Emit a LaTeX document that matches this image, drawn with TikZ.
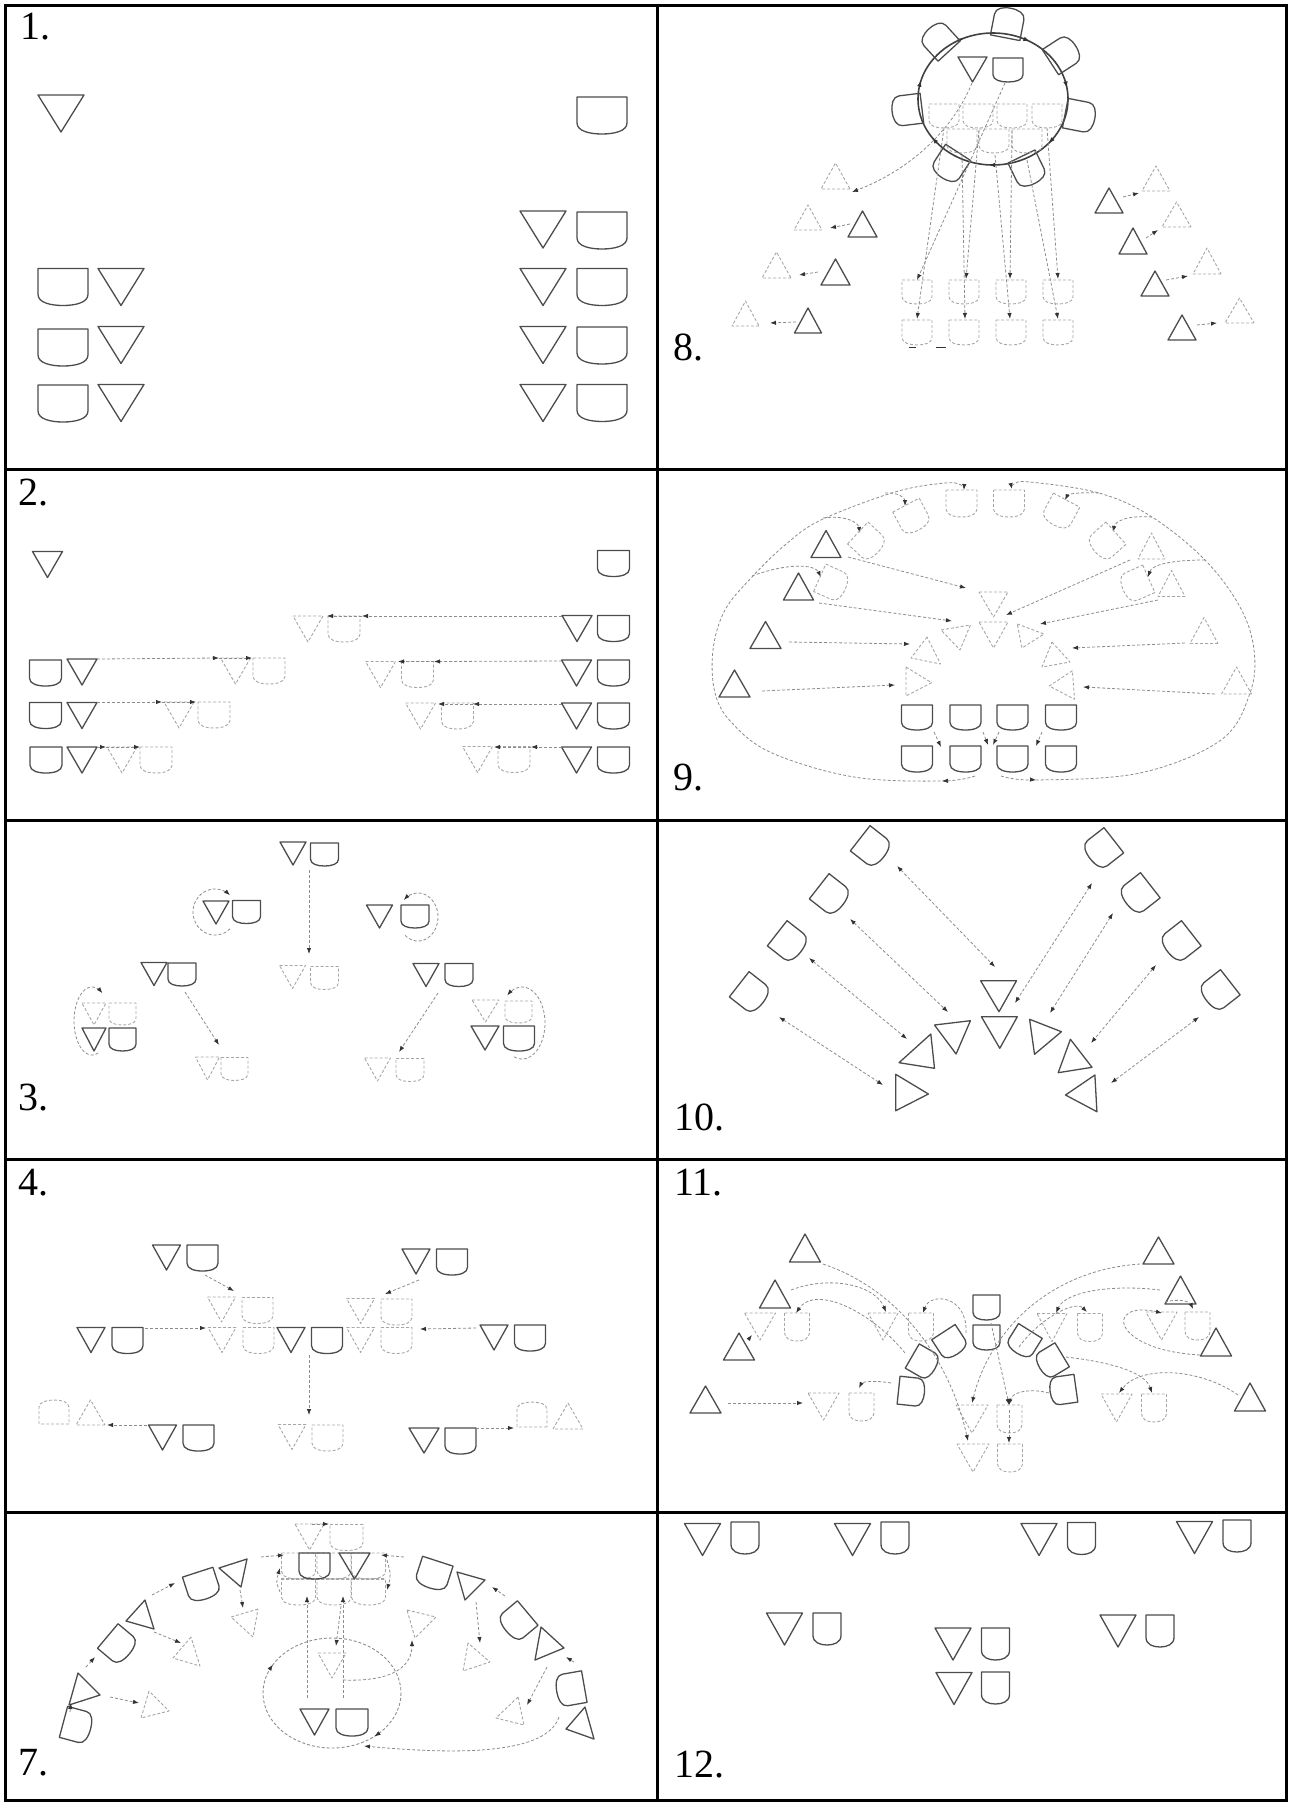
\documentclass[tikz,border=0pt]{standalone}
\usepackage{fontspec}
\setmainfont{Liberation Serif}
\usetikzlibrary{arrows.meta}
\tikzset{
  sol/.style={draw=black!70, line width=0.65pt, line join=round},
  dsh/.style={draw=black!35, line width=0.45pt, dash pattern=on 1.5pt off 1pt, line join=round},
  arr/.style={draw=black!45, line width=0.4pt, dash pattern=on 1.5pt off 1pt, -{Latex[length=3pt,width=2.2pt,color=black!80]}},
  dar/.style={draw=black!45, line width=0.4pt, dash pattern=on 1.5pt off 1pt, {Latex[length=3pt,width=2.2pt,color=black!80]}-{Latex[length=3pt,width=2.2pt,color=black!80]}},
  tipo/.style={draw=black!80, line width=0.3pt, -{Latex[length=3pt,width=2.2pt,color=black!80]}},
  lbl/.style={anchor=base west, inner sep=0pt, font=\fontsize{20}{22}\selectfont},
  frm/.style={line width=1.5pt, draw=black},
}
% down triangle centred at (#2,#3), width #4, height #5, rotation #6
\newcommand\ShT[6][sol]{\draw[#1,shift={(#2,#3)},rotate=#6] (-0.5*#4,-0.5*#5) -- (0.5*#4,-0.5*#5) -- (0,0.5*#5) -- cycle;}
% cup centred at (#2,#3)
\newcommand\ShC[6][sol]{\draw[#1,shift={(#2,#3)},rotate=#6] (-0.5*#4,-0.5*#5) -- (0.5*#4,-0.5*#5) -- (0.5*#4,0.2*#5) .. controls (0.5*#4,0.42*#5) and (0.25*#4,0.5*#5) .. (0,0.5*#5) .. controls (-0.25*#4,0.5*#5) and (-0.5*#4,0.42*#5) .. (-0.5*#4,0.2*#5) -- cycle;}
% triangle by vertices
\newcommand\ShP[4][sol]{\draw[#1] #2 -- #3 -- #4 -- cycle;}
% arrow tip on an ellipse: centre (#1,#2), radii #3 #4, angle #5 (clockwise on screen)
\newcommand\ETip[5]{\draw[tipo] ({#1+#3*cos(#5-4)},{#2+#4*sin(#5-4)}) -- ({#1+#3*cos(#5)},{#2+#4*sin(#5)});}
\begin{document}
\begin{tikzpicture}[x=0.5pt,y=-0.5pt]
\useasboundingbox (0,0) rectangle (1290,1803);
% ---------------- frame
\draw[frm] (5,6) rectangle (1286,1800);
\draw[frm] (657,6) -- (657,1800);
\foreach \yy in {469,820,1159,1512} \draw[frm] (5,\yy) -- (1286,\yy);
% ---------------- labels
\node[lbl] (l1) at (20,40) {1.};
\node[lbl] (l2) at (18,505) {2.};
\node[lbl] (l3) at (18,1110) {3.};
\node[lbl] (l4) at (18,1195) {4.};
\node[lbl] (l7) at (18,1775) {7.};
\node[lbl] (l8) at (673,360) {8.};
\node[lbl] (l9) at (673,790) {9.};
\node[lbl] (l10) at (674,1130) {10.};
\node[lbl] (l11) at (674,1195) {11.};
\node[lbl] (l12) at (674,1777) {12.};
% ================= PANEL 1
\ShT{61}{113.5}{46}{37}{0}
\ShC{602}{115.5}{50}{37}{0}
\ShT{543}{229.5}{46}{37}{0} \ShC{602}{230.5}{50}{37}{0}
\ShC{63}{287}{50}{37}{0} \ShT{121}{287}{46}{37}{0} \ShT{543}{287}{46}{37}{0} \ShC{602}{287}{50}{37}{0}
\ShC{63}{347.5}{50}{37}{0} \ShT{121}{345}{46}{37}{0} \ShT{543}{345}{46}{37}{0} \ShC{602}{345.5}{50}{37}{0}
\ShC{63}{403.5}{50}{37}{0} \ShT{121}{403}{46}{37}{0} \ShT{543}{403}{46}{37}{0} \ShC{602}{403}{50}{37}{0}
% ================= PANEL 2
\ShT{47.5}{564.5}{30}{26}{0}
\ShC{613.5}{563.5}{32}{26}{0}
\ShT{577}{628.5}{30}{26}{0} \ShC{613.5}{628.5}{32}{26}{0}
\ShT[dsh]{308}{629}{30}{26}{0} \ShC[dsh]{344}{629}{32}{26}{0}
\draw[arr] (562,616) -- (362,616); \draw[arr] (362,616) -- (327,616);
\ShC{45.5}{673}{32}{26}{0} \ShT{82}{672}{30}{26}{0}
\ShT[dsh]{235.5}{671}{30}{26}{0} \ShC[dsh]{269}{671}{32}{26}{0}
\draw[arr] (97,659) -- (219,658); \draw[arr] (219,658) -- (252,658);
\ShT{576.5}{673}{30}{26}{0} \ShC{613.5}{673}{32}{26}{0}
\ShT[dsh]{380.5}{674.5}{30}{26}{0} \ShC[dsh]{417.5}{674.5}{32}{26}{0}
\draw[arr] (562,661) -- (434,661.5); \draw[arr] (434,661.5) -- (398,661.5);
\ShC{45.5}{715.5}{32}{26}{0} \ShT{82}{715.5}{30}{26}{0}
\ShT[dsh]{179}{715}{30}{26}{0} \ShC[dsh]{214}{715}{32}{26}{0}
\draw[arr] (97,702) -- (162,702); \draw[arr] (162,702) -- (196,702);
\ShT{576.5}{716}{30}{26}{0} \ShC{613.5}{716}{32}{26}{0}
\ShT[dsh]{420.5}{716}{30}{26}{0} \ShC[dsh]{457.5}{716}{32}{26}{0}
\draw[arr] (562,704) -- (473,704); \draw[arr] (473,704) -- (438,704);
\ShC{46}{760}{32}{26}{0} \ShT{82}{760}{30}{26}{0}
\ShT[dsh]{122}{760}{30}{26}{0} \ShC[dsh]{156}{760}{32}{26}{0}
\draw[arr] (97,747) -- (106,747); \draw[arr] (106,747) -- (140,747);
\ShT{576.5}{760}{30}{26}{0} \ShC{613.5}{760}{32}{26}{0}
\ShT[dsh]{477.5}{759.5}{30}{26}{0} \ShC[dsh]{514}{759.5}{32}{26}{0}
\draw[arr] (562,747) -- (531,747); \draw[arr] (531,747) -- (494,747);
% ================= PANEL 3
\ShT{293}{853.5}{26}{23}{0} \ShC{324.5}{854.5}{28}{23}{0}
\draw[arr] (309,870) -- (309,954);
\ShT{216}{912.5}{26}{23}{0} \ShC{246.5}{912}{28}{23}{0}
\draw[arr] plot[domain=47:313,samples=40,smooth] ({215+22*cos(\x)},{912+23*sin(\x)});
\ShT{379.5}{916.5}{26}{23}{0} \ShC{415}{916.5}{28}{23}{0}
\draw[arr] plot[domain=0:265,samples=40,smooth] ({418+20*cos(130-\x)},{917+24*sin(130-\x)});
\ShT[dsh]{292.5}{977}{26}{23}{0} \ShC[dsh]{324.5}{978}{28}{23}{0}
\ShT{154}{974}{26}{23}{0} \ShC{182}{974.5}{28}{23}{0}
\ShT{426}{975}{26}{23}{0} \ShC{459}{975}{28}{23}{0}
\draw[arr] (185,992) -- (219,1045);
\draw[arr] (438,993) -- (399,1052);
\ShT[dsh]{207.5}{1068.5}{24}{23}{0} \ShC[dsh]{234.5}{1069}{27}{23}{0}
\ShT[dsh]{377.5}{1069.5}{26}{23}{0} \ShC[dsh]{410}{1070}{28}{23}{0}
\ShT[dsh]{94}{1014}{24}{22}{0} \ShC[dsh]{122.5}{1014}{27}{22}{0}
\ShT{94}{1039.5}{24}{23}{0} \ShC{122.5}{1039.5}{27}{23}{0}
\draw[arr] plot[domain=70:305,samples=40,smooth] ({92+18*cos(\x)},{1021+34*sin(\x)});
\ShT[dsh]{485.5}{1011}{27}{22}{0} \ShC[dsh]{518.5}{1012}{27}{22}{0}
\ShT{485}{1038}{28}{24}{0} \ShC{519}{1038.5}{31}{25}{0}
\draw[arr] plot[domain=0:240,samples=40,smooth] ({522+23*cos(110-\x)},{1023+36*sin(110-\x)});
% ================= PANEL 4
\ShT{166.5}{1257.5}{28}{25}{0} \ShC{202.5}{1258}{31}{26}{0}
\ShT{416}{1261.5}{28}{25}{0} \ShC{452}{1262}{31}{26}{0}
\draw[arr] (205,1275) -- (234,1291);
\draw[arr] (419,1280) -- (385,1294);
\ShT[dsh]{221.5}{1309.5}{28}{25}{0} \ShC[dsh]{257.5}{1310.5}{31}{26}{0}
\ShT[dsh]{360.5}{1311}{28}{25}{0} \ShC[dsh]{396.5}{1312}{31}{26}{0}
\ShT{91}{1340}{28}{25}{0} \ShC{127.5}{1340.5}{31}{26}{0}
\ShT[dsh]{222}{1340}{28}{25}{0} \ShC[dsh]{258.5}{1340.5}{31}{26}{0}
\ShT{291}{1340}{28}{25}{0} \ShC{327}{1340.5}{31}{26}{0}
\ShT[dsh]{360.5}{1340}{28}{25}{0} \ShC[dsh]{396.5}{1340.5}{31}{26}{0}
\ShT{494}{1337.5}{28}{25}{0} \ShC{530}{1338}{31}{26}{0}
\draw[arr] (145,1328) -- (206,1328);
\draw[arr] (476,1328) -- (420,1329);
\draw[arr] (309,1355) -- (309,1415);
\ShC[dsh]{54}{1412}{30}{24}{180} \ShT[dsh]{90.5}{1412.5}{29}{25}{180}
\draw[arr] (147,1425) -- (107,1425);
\ShT{162.5}{1437.5}{28}{25}{0} \ShC{198.5}{1438}{31}{26}{0}
\ShT[dsh]{292}{1437}{28}{25}{0} \ShC[dsh]{327.5}{1438}{31}{26}{0}
\ShT{424}{1440.5}{30}{25}{0} \ShC{460.5}{1441}{31}{26}{0}
\draw[arr] (476,1428) -- (514,1428);
\ShC[dsh]{532}{1414.5}{30}{25}{180} \ShT[dsh]{568}{1416}{30}{26}{180}
% ================= PANEL 7
\ShT[dsh]{309.5}{1537}{29}{26}{0} \ShC[dsh]{346.5}{1537.5}{33}{26}{0}
\draw[arr] (312,1524) -- (329,1524);
\ShC[dsh]{298.5}{1566}{34}{26}{0} \ShC[dsh]{334}{1566}{34}{26}{0} \ShC[dsh]{368.5}{1566}{34}{26}{0}
\ShC[dsh]{298.5}{1592}{34}{26}{0} \ShC[dsh]{334}{1592}{34}{26}{0} \ShC[dsh]{368.5}{1592}{34}{26}{0}
\draw[dsh,line width=0.8pt] (281,1579) -- (385,1579);
\ShC{314.5}{1566}{31}{26}{0} \ShT{354.5}{1566}{31}{26}{0}
\draw[arr] (261,1557) -- (284,1555);
\draw[arr] (404,1557) -- (381,1555);
\draw[arr] (280,1592) .. controls (276,1582) .. (280,1568);
\draw[arr] (387,1560) .. controls (391,1575) .. (387,1590);
\draw[arr] (307,1698) -- (307,1596);
\draw[arr] (343,1698) -- (343,1596);
\draw[arr] (341,1606) -- (336,1646);
\draw[dsh,draw=black!45] (332,1693) ellipse[x radius=69,y radius=55];
\ETip{332}{1693}{69}{55}{211}
\ETip{332}{1693}{69}{55}{52}
\ShT[dsh]{332}{1665.5}{28}{25}{0}
\draw[arr] (343,1680) .. controls (395,1682) and (412,1665) .. (412,1640);
\ShP[dsh]{(407,1610)}{(436,1617)}{(415,1638)}
\draw[arr] (559,1717) .. controls (545,1760) and (430,1752) .. (364,1746);
\ShT{314.5}{1722}{29}{26}{0} \ShC{352}{1722.5}{32}{27}{0}
\ShC{77}{1725.5}{32}{28}{75}
\ShP{(78,1673)}{(69,1705)}{(100,1695)}
\ShC{118.5}{1645}{32}{28}{50}
\ShP{(145,1600)}{(126,1621)}{(154,1629)}
\ShC{202}{1585.5}{32}{28}{18}
\ShP{(219,1568)}{(247,1559)}{(241,1587)}
\draw[arr] (70,1712) -- (71,1703);
\draw[arr] (86,1667) -- (95,1657);
\draw[arr] (152,1595) -- (175,1583);
\ShP[dsh]{(149,1691)}{(141,1718)}{(169,1711)}
\ShP[dsh]{(191,1637)}{(173,1658)}{(200,1666)}
\ShP[dsh]{(258,1609)}{(231,1617)}{(253,1637)}
\draw[arr] (110,1697) -- (139,1703);
\draw[arr] (154,1632) -- (181,1643);
\draw[arr] (240,1590) -- (243,1608);
\ShC{433.5}{1574.5}{32}{28}{-18}
\ShP{(457,1572)}{(485,1580)}{(465,1600)}
\ShC{517}{1622}{32}{28}{-50}
\ShP{(541,1627)}{(535,1660)}{(564,1648)}
\ShC{570.5}{1689}{32}{28}{-80}
\ShP{(585,1707)}{(566,1729)}{(594,1739)}
\draw[arr] (505,1596) -- (492,1587);
\draw[arr] (574,1662) -- (566,1657);
\ShP[dsh]{(468,1643)}{(463,1671)}{(490,1662)}
\ShP[dsh]{(518,1697)}{(496,1718)}{(524,1725)}
\draw[arr] (476,1602) -- (480,1643);
\draw[arr] (547,1667) -- (527,1705);
% ================= PANEL 8
\draw[draw=black!75,line width=0.8pt] (993,99) ellipse[x radius=75,y radius=66];
\foreach \aa in {196,247,299,350,42,93,144} {\ETip{993}{99}{75}{66}{\aa}}
\ShC{1008}{23}{30}{30}{169}
\ShC{939}{40}{30}{30}{-137.5}
\ShC{1063}{54}{30}{30}{123}
\ShC{1080}{116}{30}{30}{79}
\ShC{1028}{170}{30}{30}{26}
\ShC{950}{165}{30}{30}{-33}
\ShC{907}{110}{30}{30}{-83}
\ShT{972.5}{69.5}{29}{25}{0} \ShC{1008}{70}{30}{24}{0}
\foreach \xx in {944,978,1012,1047} {\ShC[dsh]{\xx}{116}{30}{24}{0}}
\foreach \xx in {962,994,1027} {\ShC[dsh]{\xx}{141}{30}{24}{0}}
\foreach \xx in {917,964,1011,1058} {\ShC[dsh]{\xx}{292}{30}{24}{0} \ShC[dsh]{\xx}{332.5}{30}{25}{0}}
\draw[arr] (1005,83) -- (917,280);
\draw[arr] (972,83) .. controls (955,125) and (915,168) .. (852,192);
\draw[arr] (944,128) -- (917,319);
\draw[arr] (979,130) -- (966,279);
\draw[arr] (962,155) -- (965,319);
\draw[arr] (1012,130) -- (1010,279);
\draw[arr] (995,155) -- (1010,319);
\draw[arr] (1047,128) -- (1058,279);
\draw[arr] (1027,160) -- (1058,319);
\draw[black!80,line width=0.8pt] (909,347.5) -- (916,347.5) (936,347.5) -- (946,347.5);
\ShT[dsh]{835.5}{176}{29}{26}{180}
\ShT[dsh]{808}{217.5}{28}{25}{180} \ShT{862.5}{224}{29}{26}{180}
\ShT[dsh]{776.5}{265}{29}{26}{180} \ShT{835.5}{272}{29}{26}{180}
\ShT[dsh]{745.5}{313.5}{27}{25}{180} \ShT{808}{320.5}{27}{25}{180}
\draw[arr] (850,224) -- (830,228);
\draw[arr] (818,272) -- (799,275);
\draw[arr] (796,322) -- (770,323);
\ShT{1109}{200.5}{28}{25}{180} \ShT[dsh]{1156}{178.5}{28}{25}{180}
\ShT{1133}{241}{28}{26}{180} \ShT[dsh]{1176.5}{214.5}{29}{25}{180}
\ShT{1155}{283.5}{28}{25}{180} \ShT[dsh]{1207}{261}{28}{26}{180}
\ShT{1182}{327.5}{28}{25}{180} \ShT[dsh]{1239.5}{310.5}{29}{25}{180}
\draw[arr] (1123,197) -- (1139,193);
\draw[arr] (1146,238) -- (1158,230);
\draw[arr] (1166,280) -- (1188,276);
\draw[arr] (1197,325) -- (1217,323);
% ================= PANEL 9
\draw[arr] plot[smooth,tension=0.6] coordinates {(975,776) (942,781) (854,777) (772,753) (732,723) (715,693) (713,650) (725,610) (752,577) (785,545) (821,520) (895,492) (945,483) (961,485) (964,490)};
\draw[tipo] (948,780.8) -- (942,781);
\draw[arr] plot[smooth,tension=0.6] coordinates {(1001,776) (1036,780) (1140,773) (1221,740) (1250,693) (1254,650) (1240,607) (1205,560) (1152,517) (1099,493) (1030,482) (1014,484) (1012,489)};
\draw[tipo] (1030,779.5) -- (1036,780);
\draw[arr] (885,493) .. controls (898,492) and (905,498) .. (905,506);
\draw[arr] (823,518) .. controls (845,515) and (858,522) .. (860,533);
\draw[arr] (752,576) .. controls (790,562) and (815,565) .. (821,577);
\draw[arr] (1099,493) .. controls (1080,492) and (1068,494) .. (1065,500);
\draw[arr] (1152,517) .. controls (1125,515) and (1115,522) .. (1113,532);
\draw[arr] (1205,560) .. controls (1170,560) and (1152,565) .. (1148,577);
\ShC[dsh]{961.5}{503.5}{31}{27}{0} \ShC[dsh]{1009}{503.5}{31}{27}{0}
\ShC[dsh]{912.5}{517.5}{30}{28}{28}
\ShC[dsh]{868}{542.5}{30}{28}{47}
\ShC[dsh]{832.5}{583.5}{30}{28}{66}
\ShC[dsh]{1060}{512.5}{30}{28}{-28}
\ShC[dsh]{1105.5}{542.5}{30}{28}{-48}
\ShC[dsh]{1136}{584.5}{30}{28}{-66}
\ShT{826}{544}{30}{27}{180} \ShT{798.5}{586.5}{30}{27}{180} \ShT{765.5}{635}{31}{27}{180} \ShT{734.5}{683.5}{31}{27}{180}
\ShT[dsh]{1151.5}{546}{27}{26}{180} \ShT[dsh]{1171.5}{583.5}{27}{26}{180} \ShT[dsh]{1204}{630.5}{28}{26}{180} \ShT[dsh]{1236.5}{680.5}{30}{27}{180}
\ShP[dsh]{(979,592)}{(1008,592)}{(993.5,617)}
\ShP[dsh]{(979,622)}{(1008,622)}{(993.5,648)}
\ShP[dsh]{(941,630)}{(970.4,625)}{(960,650)}
\ShP[dsh]{(1017.3,624)}{(1044,634)}{(1022,648)}
\ShP[dsh]{(927,637)}{(911,658)}{(940.6,664)}
\ShP[dsh]{(1052,642)}{(1070,662)}{(1042,667)}
\ShP[dsh]{(906,667)}{(931.6,682.7)}{(906,696)}
\ShP[dsh]{(1072.4,670.7)}{(1049.2,686)}{(1074.5,699.3)}
\draw[arr] (848,557) -- (966,588);
\draw[arr] (819,603) -- (952,621);
\draw[arr] (789,642) -- (910,644);
\draw[arr] (762,691) -- (895,685);
\draw[arr] (1130,560) -- (1006,615);
\draw[arr] (1158,600) -- (1040,624);
\draw[arr] (1185,643) -- (1072,648);
\draw[arr] (1215,694) -- (1083,687);
\foreach \xx in {917,965.5,1012.5,1061} {\ShC{\xx}{717.5}{31}{25}{0} \ShC{\xx}{759}{31}{26}{0}}
\draw[arr] (934,732) -- (941,747);
\draw[arr] (983,732) -- (988,745);
\draw[arr] (999,732) -- (993,745);
\draw[arr] (1042,732) -- (1036,746);
% ================= PANEL 10
\ShC{872}{847.5}{32}{30}{52} \ShC{831}{895.5}{32}{30}{52} \ShC{789}{942.5}{32}{30}{52} \ShC{751}{993.5}{32}{30}{52}
\ShC{1102}{849.5}{32}{30}{-52} \ShC{1138.5}{894.5}{32}{30}{-52} \ShC{1179.5}{942.5}{32}{30}{-52} \ShC{1218.5}{991.5}{32}{30}{-52}
\ShP{(980.6,980.7)}{(1016.5,980.7)}{(999,1011.7)}
\ShP{(981.4,1016.7)}{(1017.3,1016.7)}{(999.8,1048.3)}
\ShP{(934.5,1025)}{(970.4,1020.7)}{(956.1,1054)}
\ShP{(1029.6,1019.3)}{(1061.4,1031.7)}{(1034.5,1054.3)}
\ShP{(930.8,1034)}{(899,1062.7)}{(934.5,1068.3)}
\ShP{(1070.4,1039.3)}{(1058.2,1072.7)}{(1092,1067.3)}
\ShP{(895.7,1074.3)}{(928.4,1094)}{(895.7,1110.7)}
\ShP{(1094.9,1075)}{(1065.5,1095)}{(1096.9,1111.7)}
\draw[dar] (897,866) -- (995,967);
\draw[dar] (850,919) -- (948,1012);
\draw[dar] (809,958) -- (907,1039);
\draw[dar] (779,1017) -- (883,1085);
\draw[dar] (1092,883) -- (1015,1003);
\draw[dar] (1113,913) -- (1050,1013);
\draw[dar] (1156,965) -- (1091,1043);
\draw[dar] (1199,1017) -- (1111,1083);
% ================= PANEL 11
\ShT{805}{1248}{31}{28}{180} \ShT{1158.5}{1250.5}{31}{27}{180}
\ShT{775}{1294}{31}{28}{180} \ShT{739}{1346.5}{31}{27}{180} \ShT{705.5}{1399.5}{31}{27}{180}
\ShT{1180.5}{1290}{31}{28}{180} \ShT{1216}{1342}{31}{28}{180} \ShT{1250}{1397}{31}{28}{180}
\ShT[dsh]{760}{1326.5}{31}{27}{0} \ShC[dsh]{797}{1327}{25}{28}{0}
\ShT[dsh]{883}{1326.5}{30}{27}{0} \ShC[dsh]{921}{1327}{25}{28}{0}
\ShT[dsh]{1052}{1327.5}{30}{28}{0} \ShC[dsh]{1090}{1327.5}{25}{28}{0}
\ShT[dsh]{1161.5}{1326}{31}{28}{0} \ShC[dsh]{1197.5}{1326}{25}{28}{0}
\ShT[dsh]{823.5}{1406.5}{31}{27}{0} \ShC[dsh]{861.5}{1407}{25}{28}{0}
\ShT[dsh]{972}{1419}{32}{28}{0} \ShC[dsh]{1009.5}{1419}{25}{28}{0}
\ShT[dsh]{973}{1458}{32}{28}{0} \ShC[dsh]{1010}{1458}{25}{28}{0}
\ShT[dsh]{1116.5}{1408}{31}{28}{0} \ShC[dsh]{1154}{1408}{25}{28}{0}
\ShC{986.5}{1307.5}{27}{25}{0} \ShC{986.5}{1337.5}{27}{25}{0}
\ShC{911.5}{1391.5}{28}{26}{84} \ShC{923.5}{1362.5}{28}{26}{60} \ShC{950.5}{1343}{28}{26}{33}
\ShC{1023.5}{1342}{28}{26}{-32} \ShC{1051}{1361.5}{28}{26}{-59} \ShC{1063}{1390}{28}{26}{-82}
\draw[arr] (823,1264) .. controls (900,1290) and (950,1360) .. (968,1441);
\draw[arr] (1140,1264) .. controls (1050,1270) and (990,1330) .. (972,1403);
\draw[arr] (791,1290) .. controls (830,1275) and (875,1285) .. (886,1312);
\draw[arr] (905,1353) .. controls (870,1310) and (815,1285) .. (796,1313);
\draw[arr] (966,1333) .. controls (968,1295) and (930,1292) .. (923,1313);
\draw[arr] (891,1383) .. controls (875,1380) and (862,1382) .. (859,1388);
\draw[arr] (991,1323) -- (1009,1405);
\draw[arr] (1009,1410) -- (1009,1443);
\draw[arr] (1049,1393) .. controls (1030,1388) and (1012,1392) .. (1009,1405);
\draw[arr] (1019,1347) .. controls (1040,1318) and (1075,1300) .. (1087,1312);
\draw[arr] (1160,1290) .. controls (1110,1284) and (1065,1292) .. (1056,1313);
\draw[arr] (1165,1302) .. controls (1180,1298) and (1190,1302) .. (1193,1309);
\draw[arr] (1200,1355) .. controls (1110,1350) and (1105,1300) .. (1162,1313);
\draw[arr] (1238,1395) .. controls (1200,1368) and (1140,1365) .. (1119,1393);
\draw[arr] (1066,1357) .. controls (1110,1362) and (1145,1372) .. (1152,1393);
\draw[arr] (728,1403) -- (803,1403);
\draw[arr] (748,1340) -- (752,1335);
% ================= PANEL 12
\ShT{702.5}{1539.5}{36}{32}{0} \ShC{745}{1538}{28}{32}{0}
\ShT{852.5}{1539.5}{36}{32}{0} \ShC{895}{1538}{28}{32}{0}
\ShT{1039}{1539.5}{36}{32}{0} \ShC{1081.5}{1538.5}{28}{32}{0}
\ShT{1194.5}{1537.5}{36}{32}{0} \ShC{1237}{1536}{28}{32}{0}
\ShT{784.5}{1629}{36}{32}{0} \ShC{827}{1629}{28}{32}{0}
\ShT{1118}{1631}{36}{32}{0} \ShC{1160}{1631}{28}{32}{0}
\ShT{953}{1644}{36}{32}{0} \ShC{995.5}{1644}{28}{32}{0}
\ShT{954}{1688.5}{36}{32}{0} \ShC{995.5}{1688}{28}{32}{0}
\end{tikzpicture}
\end{document}
